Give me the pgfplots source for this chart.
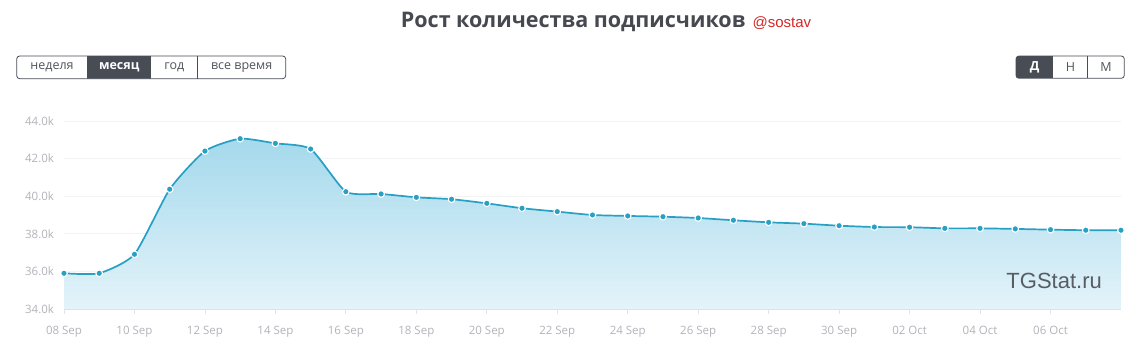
\documentclass[border=0pt]{standalone}
\usepackage{pgfplots}
\pgfplotsset{compat=1.18}
\usepackage{fontspec}
\setmainfont{Open Sans}
\newfontfamily\arialf{Liberation Sans}
\definecolor{lineC}{RGB}{40,160,196}
\definecolor{fillTop}{RGB}{164,217,236}
\definecolor{fillBot}{RGB}{228,243,250}
\definecolor{gridC}{RGB}{242,243,245}
\definecolor{axisC}{RGB}{222,226,234}
\definecolor{labC}{RGB}{178,180,186}
\definecolor{titleC}{RGB}{70,73,80}
\definecolor{btnC}{RGB}{71,76,85}
\definecolor{btnT}{RGB}{80,84,92}
\definecolor{redC}{RGB}{214,40,40}
\definecolor{wmC}{RGB}{88,92,99}
\pgfplotstableread{
x y
0 35.90
1 35.90
2 36.91
3 40.37
4 42.40
5 43.06
6 42.81
7 42.51
8 40.24
9 40.12
10 39.94
11 39.84
12 39.62
13 39.36
14 39.18
15 39.00
16 38.95
17 38.91
18 38.84
19 38.72
20 38.61
21 38.54
22 38.43
23 38.36
24 38.35
25 38.29
26 38.29
27 38.26
28 38.22
29 38.19
30 38.19
}\subs
\begin{document}
\begin{tikzpicture}[x=1pt,y=1pt]
\useasboundingbox[fill=white] (0,0) rectangle (1132,348);
% title
\node[anchor=base, inner sep=0] at (606,320) {{\fontsize{21.5}{24}\selectfont\bfseries\color{titleC}Рост количества подписчиков}\hspace{7pt}{\arialf\fontsize{15}{17}\selectfont\color{redC}@sostav}};
% left buttons
\begin{scope}
\clip[rounded corners=3pt] (16.7,269.3) rectangle (285.7,292);
\fill[btnC] (87.3,269.3) rectangle (151,292);
\end{scope}
\draw[btnC, line width=0.8pt, rounded corners=3pt] (16.7,269.3) rectangle (285.7,292);
\draw[btnC, line width=0.8pt] (197.7,269.3) -- (197.7,292);
\node[text=btnT, font=\fontsize{12.5}{14}\selectfont] at (52,280.6) {неделя};
\node[text=white, font=\fontsize{12.5}{14}\selectfont\bfseries] at (119.2,280.6) {месяц};
\node[text=btnT, font=\fontsize{12.5}{14}\selectfont] at (174.3,280.6) {год};
\node[text=btnT, font=\fontsize{12.5}{14}\selectfont] at (241.7,280.6) {все время};
% right buttons
\begin{scope}
\clip[rounded corners=3pt] (1016,269.7) rectangle (1124.3,292);
\fill[btnC] (1016,269.7) rectangle (1053.3,292);
\end{scope}
\draw[btnC, line width=0.8pt, rounded corners=3pt] (1016,269.7) rectangle (1124.3,292);
\draw[btnC, line width=0.8pt] (1087.7,269.7) -- (1087.7,292);
\node[text=white, font=\fontsize{12.5}{14}\selectfont\bfseries] at (1034.7,280.8) {Д};
\node[text=btnT, font=\fontsize{12.5}{14}\selectfont] at (1070.5,280.8) {Н};
\node[text=btnT, font=\fontsize{12.5}{14}\selectfont] at (1106,280.8) {М};
\begin{axis}[
  at={(64pt,39pt)}, anchor=south west,
  scale only axis, width=1057pt, height=188pt,
  xmin=0, xmax=30, ymin=34, ymax=44,
  axis x line=bottom, axis y line=left,
  x axis line style={-, draw=axisC, line width=0.8pt},
  y axis line style={draw=none},
  ymajorgrids, grid style={draw=gridC, line width=0.7pt},
  ytick={34,36,38,40,42,44},
  yticklabels={34.0k,36.0k,38.0k,40.0k,42.0k,44.0k},
  ytick style={draw=none},
  yticklabel style={text=labC, font=\fontsize{11.5}{13}\selectfont, xshift=-4pt},
  xtick={0,2,...,28},
  xticklabels={08 Sep,10 Sep,12 Sep,14 Sep,16 Sep,18 Sep,20 Sep,22 Sep,24 Sep,26 Sep,28 Sep,30 Sep,02 Oct,04 Oct,06 Oct},
  xtick align=outside, major tick length=5pt,
  xtick style={draw=axisC, line width=0.8pt},
  xticklabel style={text=labC, font=\fontsize{11.5}{13}\selectfont, yshift=-9pt},
  clip=false,
]
\addplot[draw=none, top color=fillTop, bottom color=fillBot, smooth, tension=0.35] table[x=x,y=y] {\subs} \closedcycle;
\addplot[color=lineC, line width=1.7pt, smooth, tension=0.35, mark=*, mark size=3.3pt, mark options={fill=lineC, draw=white, line width=1.1pt}] table[x=x,y=y] {\subs};
\end{axis}
\node[anchor=east, inner sep=0, text=wmC, font=\arialf\fontsize{22}{24}\selectfont] at (1102,67) {TGStat.ru};
\end{tikzpicture}
\end{document}
